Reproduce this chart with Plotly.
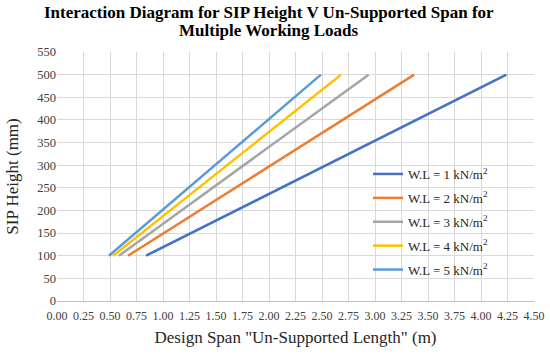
import plotly.graph_objects as go

heights = [100, 500]
series_names = ["W.L = 1 kN/m<sup>2</sup>", "W.L = 2 kN/m<sup>2</sup>", "W.L = 3 kN/m<sup>2</sup>",
                "W.L = 4 kN/m<sup>2</sup>", "W.L = 5 kN/m<sup>2</sup>"]
span_wl1 = [0.84, 4.24]
span_wl2 = [0.67, 3.37]
span_wl3 = [0.585, 2.94]
span_wl4 = [0.53, 2.68]
span_wl5 = [0.49, 2.49]
spans = [span_wl1, span_wl2, span_wl3, span_wl4, span_wl5]
colors = ["#4472C4", "#ED7D31", "#A5A5A5", "#FFC000", "#5B9BD5"]

x_ticks = [i * 0.25 for i in range(19)]
x_ticklabels = [f"{v:.2f}" for v in x_ticks]
y_ticks = list(range(0, 551, 50))

title_lines = ["Interaction Diagram for SIP Height V Un-Supported Span for", "Multiple Working Loads"]

font = "Liberation Serif, Times New Roman, serif"

fig = go.Figure()
for i, (name, s, c) in enumerate(zip(series_names, spans, colors)):
    fig.add_trace(go.Scatter(x=s, y=heights, mode="lines", name=name,
                             legendgroup=f"g{i}",
                             line=dict(color=c, width=2.5)))

PL, PR, PT, PB = 57, 534, 52, 301  # plot area in pixels
def px_x(p):
    return (p - PL) / (PR - PL)
def px_y(p):
    return (PB - p) / (PB - PT)

fig.update_layout(
    width=550, height=357,
    margin=dict(l=PL, r=550 - PR, t=PT, b=357 - PB),
    paper_bgcolor="white", plot_bgcolor="white",
    font=dict(family=font, size=12, color="#262626"),
    showlegend=True,
    legend=dict(x=px_x(368), y=px_y(159), xanchor="left", yanchor="top",
                bgcolor="rgba(0,0,0,0)", font=dict(family=font, size=13, color="#262626"),
                tracegroupgap=4, traceorder="grouped", itemwidth=30),
    xaxis=dict(range=[0, 4.5], tickvals=x_ticks, ticktext=x_ticklabels,
               showgrid=True, gridcolor="#D9D9D9", gridwidth=1, automargin=False,
               zeroline=False, showline=True, linecolor="#BFBFBF", linewidth=1,
               ticks="", ticklabelstandoff=4,
               tickfont=dict(family=font, size=12, color="#404040"),
               title=dict(text='Design Span "Un-Supported Length" (m)',
                          font=dict(family=font, size=17, color="#262626"), standoff=8)),
    yaxis=dict(range=[0, 550], tickvals=y_ticks, automargin=False,
               showgrid=True, gridcolor="#D9D9D9", gridwidth=1,
               zeroline=False, showline=False,
               ticks="", tickfont=dict(family=font, size=12.5, color="#404040"),
               title=dict(text="SIP Height (mm)",
                          font=dict(family=font, size=17, color="#262626"), standoff=14)),
    annotations=[
        dict(text=f"<b>{title_lines[0]}</b>", xref="paper", yref="paper",
             x=px_x(268.5), y=px_y(12), xanchor="center", yanchor="middle", showarrow=False,
             font=dict(family=font, size=17, color="black")),
        dict(text=f"<b>{title_lines[1]}</b>", xref="paper", yref="paper",
             x=px_x(268.5), y=px_y(30.5), xanchor="center", yanchor="middle", showarrow=False,
             font=dict(family=font, size=17, color="black")),
    ],
)

fig.write_html("out.html", config={"displayModeBar": False},
               post_script="document.body.style.margin='0';")
